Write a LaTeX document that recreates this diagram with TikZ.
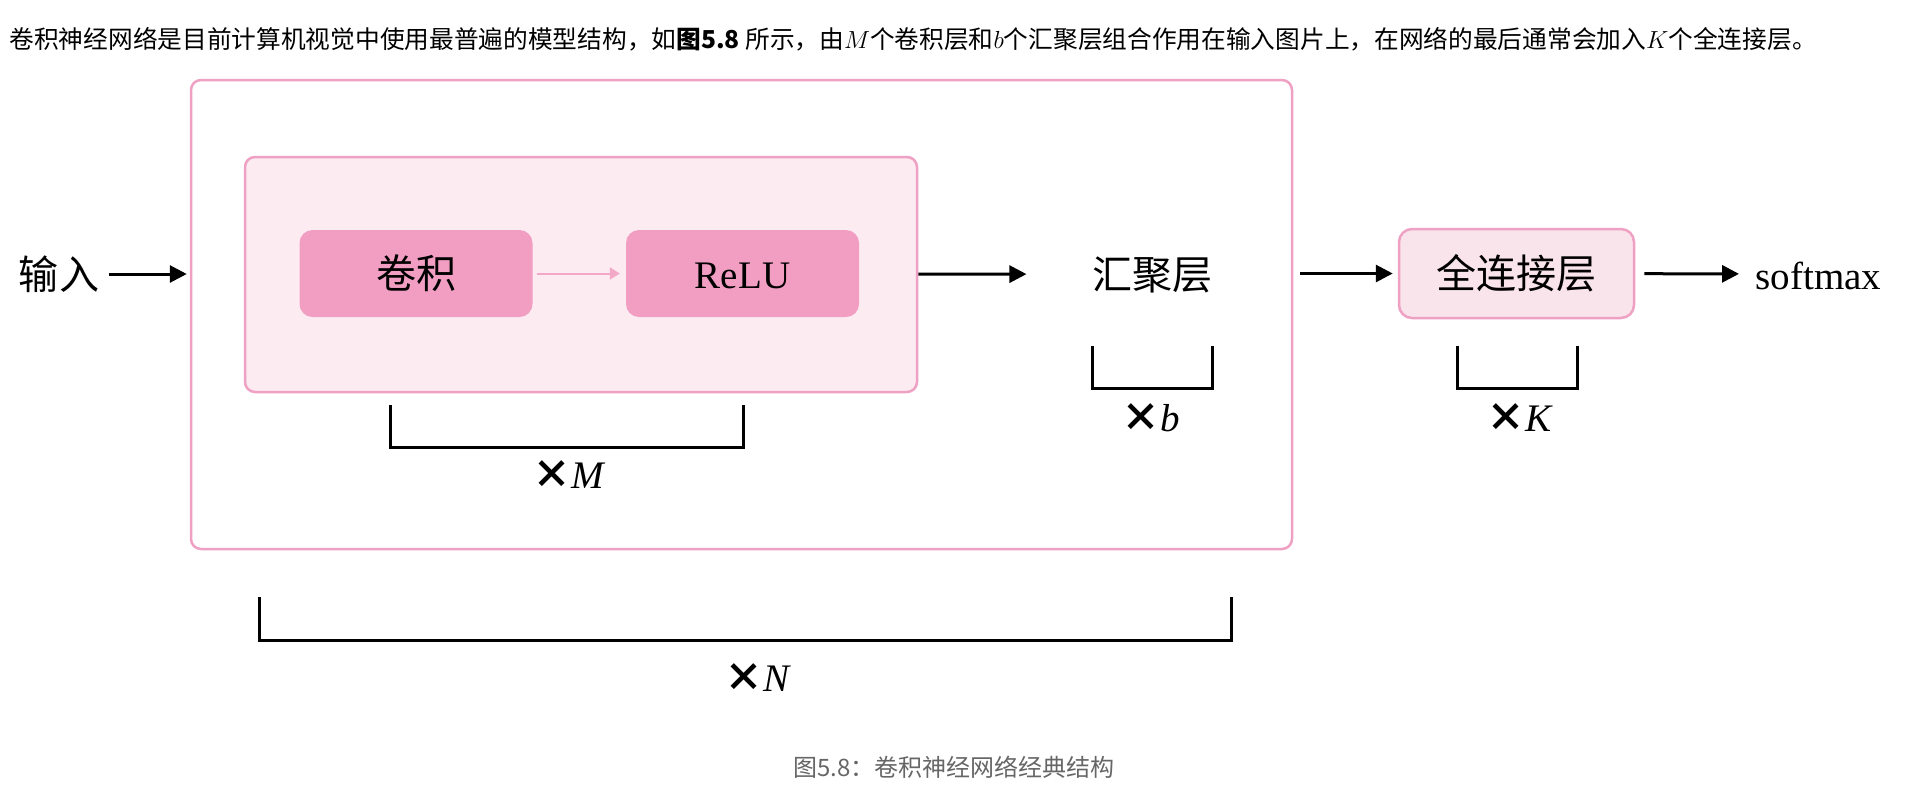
\RequirePackage{fix-cm}
\documentclass[tikz,border=0pt]{standalone}
\usepackage{fontspec}
\newfontfamily\cjk{Noto Sans CJK SC}
\newfontfamily\serif{Liberation Serif}
\usetikzlibrary{positioning}
\usetikzlibrary{arrows.meta}
\definecolor{netpink}{HTML}{EFA1C3}
\definecolor{blockfill}{HTML}{FCEBF1}
\definecolor{layerpink}{HTML}{F19EC2}
\definecolor{fcfill}{HTML}{FAE4EC}
\definecolor{linkpink}{HTML}{F4A8C8}
\definecolor{captiongray}{HTML}{666666}

\begin{document}
\begin{tikzpicture}[x=1pt, y=-1pt,
            big/.style={font=\cjk\fontsize{40}{48}\selectfont, text height=35pt, text depth=5pt},
            latin/.style={font=\serif\fontsize{39}{48}\selectfont},
            layer/.style={big, rounded corners=13pt, minimum width=233pt, minimum height=87pt},
            flow/.style={-{Triangle[length=17pt, width=17pt]}, line width=3pt},
            bracket/.style={line width=3pt},
            times/.style={font=\fontsize{39}{48}\selectfont}]
            \useasboundingbox (0,0) rectangle (1927,788);

            \node[anchor=base west, font=\cjk\fontsize{24.7}{30}\selectfont] (intro) at (6,48)
                {卷积神经网络是目前计算机视觉中使用最普遍的模型结构，如\textbf{图5.8} 所示，由$M$个卷积层和$b$个汇聚层组合作用在输入图片上，在网络的最后通常会加入$K$个全连接层。};

            \node[draw=netpink, line width=2.5pt, rounded corners=10pt, minimum width=1101pt, minimum height=469pt] (net) at (741.5,314.5) {};
            \node[draw=netpink, fill=blockfill, line width=2.5pt, rounded corners=10pt, minimum width=672pt, minimum height=235pt] (block) at (581,274.5) {};
            \node[layer, fill=layerpink] (conv) at (416,273.5) {卷积};
            \node[layer, latin, fill=layerpink] (relu) at (742.5,273.5) {ReLU};
            \node[big] (input) at (59,274) {输入};
            \node[big] (pool) at (1152,274) {汇聚层};
            \node[layer, draw=netpink, fill=fcfill, line width=2.5pt, minimum width=235pt, minimum height=89pt] (fc) at (1516.5,273.5) {全连接层};
            \node[big, latin, anchor=west] (softmax) at (1752,274) {softmax};

            \draw[-{Triangle[length=10pt, width=12pt]}, linkpink, line width=2pt, shorten <=4pt, shorten >=6pt] (conv) -- (relu);
            \draw[flow, shorten <=6pt, shorten >=3pt] (input) -- (input -| net.west);
            \draw[flow, shorten >=62pt] (block) -- (pool);
            \draw[flow, shorten <=7pt, shorten >=5pt] (fc -| net.east) -- (fc);
            \draw[flow, shorten <=9pt, shorten >=13pt] (fc) -- (softmax);

            \draw[bracket] (390,405) -- (390,447) -- (743,447) -- (743,405);
            \draw[bracket] (1092,346) -- (1092,388) -- (1212,388) -- (1212,346);
            \draw[bracket] (1457,346) -- (1457,388) -- (1577,388) -- (1577,346);
            \draw[bracket] (259,597) -- (259,640) -- (1231,640) -- (1231,597);

            \node[times] (times_m) at (568,475) {{\cjk\bfseries ×}{\serif\itshape M}};
            \node[times] (times_b) at (1151,418) {{\cjk\bfseries ×}{\serif\itshape b}};
            \node[times] (times_k) at (1519,418) {{\cjk\bfseries ×}{\serif\itshape K}};
            \node[times] (times_n) at (757,678) {{\cjk\bfseries ×}{\serif\itshape N}};

            \node[font=\cjk\fontsize{24}{30}\selectfont, text=captiongray] (caption) at (954,767) {图5.8：卷积神经网络经典结构};
        \end{tikzpicture}
\end{document}
